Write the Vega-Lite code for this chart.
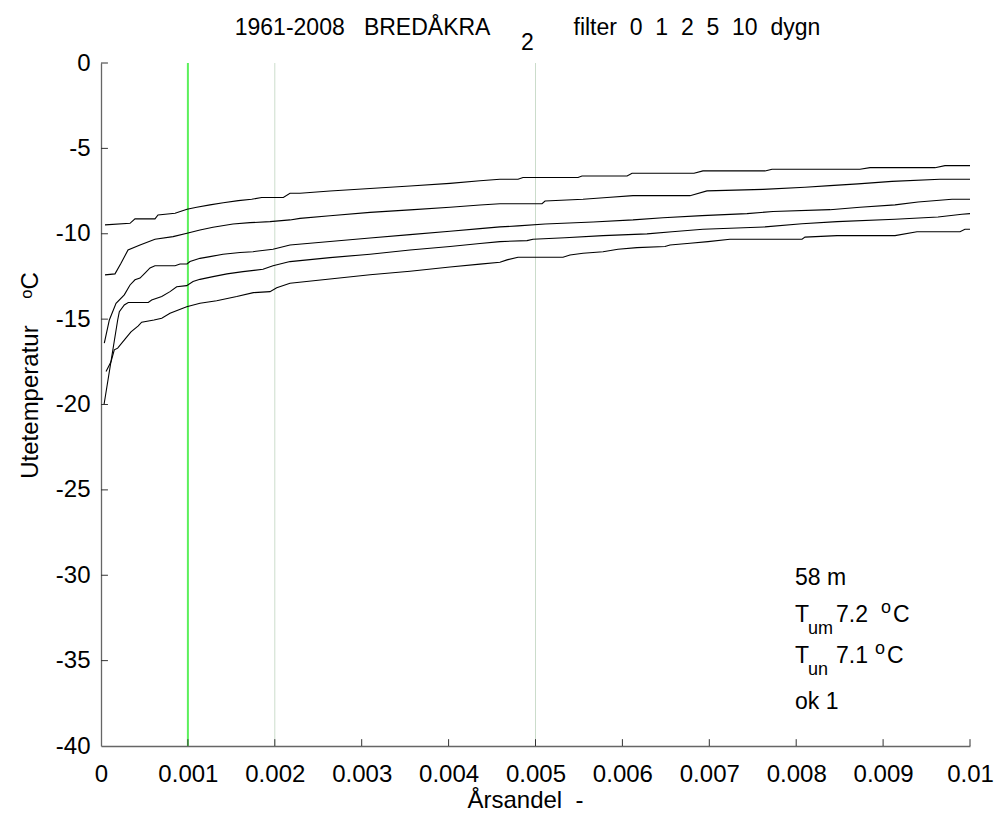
{
  "$schema": "https://vega.github.io/schema/vega-lite/v6.json",
  "autosize": "none",
  "width": 869,
  "height": 683,
  "padding": {"left": 101, "top": 63, "right": 26, "bottom": 72},
  "background": "white",
  "config": {
    "view": {"stroke": null},
    "font": "Liberation Sans",
    "axis": {"grid": false, "ticks": false, "domainColor": "#666666", "labelColor": "#000000", "titleColor": "#000000", "labelFont": "Liberation Sans", "titleFont": "Liberation Sans", "labelFontSize": 24, "titleFontSize": 24, "titleFontWeight": "normal", "domainWidth": 1.3}
  },
  "title": {
    "text": "1961-2008\u00a0\u00a0\u00a0BREDÅKRA\u00a0\u00a0\u00a0\u00a0\u00a0\u00a0\u00a0\u00a0\u00a0\u00a0\u00a0\u00a0\u00a0filter\u00a0\u00a00\u00a0\u00a01\u00a0\u00a02\u00a0\u00a05\u00a0\u00a010\u00a0\u00a0dygn",
    "subtitle": "2",
    "font": "Liberation Sans",
    "fontSize": 23,
    "fontWeight": "normal",
    "color": "#000000",
    "subtitleFont": "Liberation Sans",
    "subtitleFontSize": 23,
    "subtitleColor": "#000000",
    "subtitlePadding": -8,
    "anchor": "middle",
    "dx": -8,
    "offset": -4
  },
  "datasets": {
    "curves": [
      {"f":"10","x":0.000046,"t":-9.48},{"f":"10","x":0.000334,"t":-9.39},{"f":"10","x":0.000391,"t":-9.13},{"f":"10","x":0.000621,"t":-9.13},{"f":"10","x":0.000656,"t":-8.9},{"f":"10","x":0.000852,"t":-8.8},{"f":"10","x":0.00099,"t":-8.57},{"f":"10","x":0.001101,"t":-8.45},{"f":"10","x":0.001254,"t":-8.31},{"f":"10","x":0.001407,"t":-8.18},{"f":"10","x":0.00158,"t":-8.06},{"f":"10","x":0.001734,"t":-7.98},{"f":"10","x":0.001849,"t":-7.88},{"f":"10","x":0.002098,"t":-7.88},{"f":"10","x":0.002175,"t":-7.63},{"f":"10","x":0.00229,"t":-7.63},{"f":"10","x":0.002635,"t":-7.5},{"f":"10","x":0.003096,"t":-7.35},{"f":"10","x":0.003556,"t":-7.2},{"f":"10","x":0.004016,"t":-7.05},{"f":"10","x":0.004361,"t":-6.9},{"f":"10","x":0.004591,"t":-6.81},{"f":"10","x":0.004799,"t":-6.81},{"f":"10","x":0.004856,"t":-6.71},{"f":"10","x":0.005489,"t":-6.71},{"f":"10","x":0.005535,"t":-6.62},{"f":"10","x":0.006054,"t":-6.62},{"f":"10","x":0.006111,"t":-6.46},{"f":"10","x":0.006824,"t":-6.46},{"f":"10","x":0.006927,"t":-6.32},{"f":"10","x":0.007641,"t":-6.32},{"f":"10","x":0.007722,"t":-6.22},{"f":"10","x":0.008734,"t":-6.22},{"f":"10","x":0.00885,"t":-6.13},{"f":"10","x":0.009597,"t":-6.13},{"f":"10","x":0.009712,"t":-6.01},{"f":"10","x":0.01,"t":-6.01},

      {"f":"5","x":0.000046,"t":-12.41},{"f":"5","x":0.000161,"t":-12.35},{"f":"5","x":0.00023,"t":-11.73},{"f":"5","x":0.000311,"t":-10.95},{"f":"5","x":0.000449,"t":-10.66},{"f":"5","x":0.000621,"t":-10.32},{"f":"5","x":0.000829,"t":-10.17},{"f":"5","x":0.00099,"t":-9.97},{"f":"5","x":0.001139,"t":-9.78},{"f":"5","x":0.001289,"t":-9.62},{"f":"5","x":0.001519,"t":-9.43},{"f":"5","x":0.001715,"t":-9.35},{"f":"5","x":0.001945,"t":-9.29},{"f":"5","x":0.002175,"t":-9.19},{"f":"5","x":0.00229,"t":-9.1},{"f":"5","x":0.002635,"t":-8.95},{"f":"5","x":0.003096,"t":-8.75},{"f":"5","x":0.003556,"t":-8.6},{"f":"5","x":0.004016,"t":-8.45},{"f":"5","x":0.004361,"t":-8.32},{"f":"5","x":0.004591,"t":-8.24},{"f":"5","x":0.005075,"t":-8.24},{"f":"5","x":0.00511,"t":-8.08},{"f":"5","x":0.005547,"t":-7.98},{"f":"5","x":0.005823,"t":-7.88},{"f":"5","x":0.006122,"t":-7.77},{"f":"5","x":0.006778,"t":-7.77},{"f":"5","x":0.006973,"t":-7.49},{"f":"5","x":0.007618,"t":-7.4},{"f":"5","x":0.008101,"t":-7.28},{"f":"5","x":0.008389,"t":-7.18},{"f":"5","x":0.008711,"t":-7.08},{"f":"5","x":0.009102,"t":-6.93},{"f":"5","x":0.009655,"t":-6.81},{"f":"5","x":0.01,"t":-6.81},

      {"f":"2","x":0.000038,"t":-16.41},{"f":"2","x":0.000096,"t":-15.05},{"f":"2","x":0.000173,"t":-14.07},{"f":"2","x":0.000268,"t":-13.58},{"f":"2","x":0.000334,"t":-13.0},{"f":"2","x":0.000391,"t":-12.7},{"f":"2","x":0.000449,"t":-12.6},{"f":"2","x":0.000506,"t":-12.3},{"f":"2","x":0.000564,"t":-12.0},{"f":"2","x":0.000621,"t":-11.87},{"f":"2","x":0.000852,"t":-11.87},{"f":"2","x":0.000909,"t":-11.77},{"f":"2","x":0.00099,"t":-11.77},{"f":"2","x":0.001024,"t":-11.63},{"f":"2","x":0.001139,"t":-11.44},{"f":"2","x":0.001254,"t":-11.34},{"f":"2","x":0.001404,"t":-11.2},{"f":"2","x":0.0016,"t":-11.1},{"f":"2","x":0.001749,"t":-11.05},{"f":"2","x":0.001979,"t":-10.91},{"f":"2","x":0.002175,"t":-10.66},{"f":"2","x":0.002635,"t":-10.45},{"f":"2","x":0.003096,"t":-10.25},{"f":"2","x":0.003556,"t":-10.05},{"f":"2","x":0.004016,"t":-9.85},{"f":"2","x":0.004361,"t":-9.7},{"f":"2","x":0.004591,"t":-9.6},{"f":"2","x":0.004799,"t":-9.54},{"f":"2","x":0.00511,"t":-9.43},{"f":"2","x":0.005662,"t":-9.31},{"f":"2","x":0.006122,"t":-9.19},{"f":"2","x":0.006467,"t":-9.06},{"f":"2","x":0.006916,"t":-8.94},{"f":"2","x":0.007434,"t":-8.82},{"f":"2","x":0.007733,"t":-8.7},{"f":"2","x":0.008389,"t":-8.59},{"f":"2","x":0.008734,"t":-8.45},{"f":"2","x":0.009137,"t":-8.31},{"f":"2","x":0.009402,"t":-8.14},{"f":"2","x":0.009793,"t":-7.98},{"f":"2","x":0.01,"t":-7.98},

      {"f":"1","x":0.000035,"t":-20.0},{"f":"1","x":0.000192,"t":-15.05},{"f":"1","x":0.000211,"t":-14.56},{"f":"1","x":0.000268,"t":-14.17},{"f":"1","x":0.000314,"t":-14.03},{"f":"1","x":0.000544,"t":-14.03},{"f":"1","x":0.000583,"t":-13.88},{"f":"1","x":0.000699,"t":-13.68},{"f":"1","x":0.000794,"t":-13.39},{"f":"1","x":0.000871,"t":-13.1},{"f":"1","x":0.000986,"t":-13.04},{"f":"1","x":0.001059,"t":-12.8},{"f":"1","x":0.001139,"t":-12.67},{"f":"1","x":0.001289,"t":-12.51},{"f":"1","x":0.00145,"t":-12.35},{"f":"1","x":0.001634,"t":-12.22},{"f":"1","x":0.001864,"t":-12.08},{"f":"1","x":0.001979,"t":-11.87},{"f":"1","x":0.002175,"t":-11.63},{"f":"1","x":0.002635,"t":-11.4},{"f":"1","x":0.003096,"t":-11.2},{"f":"1","x":0.003556,"t":-10.95},{"f":"1","x":0.004016,"t":-10.75},{"f":"1","x":0.004361,"t":-10.57},{"f":"1","x":0.004591,"t":-10.46},{"f":"1","x":0.004902,"t":-10.4},{"f":"1","x":0.004971,"t":-10.32},{"f":"1","x":0.005339,"t":-10.23},{"f":"1","x":0.005777,"t":-10.11},{"f":"1","x":0.006283,"t":-10.01},{"f":"1","x":0.006571,"t":-9.88},{"f":"1","x":0.006927,"t":-9.74},{"f":"1","x":0.007641,"t":-9.6},{"f":"1","x":0.008067,"t":-9.41},{"f":"1","x":0.00847,"t":-9.29},{"f":"1","x":0.009137,"t":-9.15},{"f":"1","x":0.009632,"t":-9.02},{"f":"1","x":0.009908,"t":-8.86},{"f":"1","x":0.01,"t":-8.82},

      {"f":"0","x":0.000058,"t":-18.07},{"f":"0","x":0.000115,"t":-17.5},{"f":"0","x":0.000153,"t":-16.8},{"f":"0","x":0.000192,"t":-16.7},{"f":"0","x":0.000288,"t":-16.1},{"f":"0","x":0.000345,"t":-15.75},{"f":"0","x":0.000429,"t":-15.4},{"f":"0","x":0.000468,"t":-15.18},{"f":"0","x":0.00061,"t":-15.05},{"f":"0","x":0.000699,"t":-14.95},{"f":"0","x":0.000794,"t":-14.66},{"f":"0","x":0.000986,"t":-14.27},{"f":"0","x":0.001139,"t":-14.07},{"f":"0","x":0.001331,"t":-13.92},{"f":"0","x":0.001562,"t":-13.68},{"f":"0","x":0.001753,"t":-13.45},{"f":"0","x":0.001945,"t":-13.39},{"f":"0","x":0.002022,"t":-13.16},{"f":"0","x":0.002175,"t":-12.9},{"f":"0","x":0.002635,"t":-12.65},{"f":"0","x":0.003096,"t":-12.4},{"f":"0","x":0.003556,"t":-12.2},{"f":"0","x":0.004016,"t":-11.95},{"f":"0","x":0.004361,"t":-11.78},{"f":"0","x":0.004591,"t":-11.67},{"f":"0","x":0.004672,"t":-11.53},{"f":"0","x":0.004799,"t":-11.38},{"f":"0","x":0.005316,"t":-11.38},{"f":"0","x":0.005397,"t":-11.24},{"f":"0","x":0.005547,"t":-11.14},{"f":"0","x":0.005777,"t":-11.05},{"f":"0","x":0.005949,"t":-10.91},{"f":"0","x":0.006168,"t":-10.81},{"f":"0","x":0.00649,"t":-10.75},{"f":"0","x":0.006548,"t":-10.66},{"f":"0","x":0.006778,"t":-10.56},{"f":"0","x":0.006985,"t":-10.46},{"f":"0","x":0.007238,"t":-10.32},{"f":"0","x":0.008067,"t":-10.32},{"f":"0","x":0.008101,"t":-10.2},{"f":"0","x":0.00847,"t":-10.11},{"f":"0","x":0.009137,"t":-10.11},{"f":"0","x":0.00939,"t":-9.88},{"f":"0","x":0.009885,"t":-9.88},{"f":"0","x":0.009942,"t":-9.74},{"f":"0","x":0.01,"t":-9.74}
    ],
    "vlines": [
      {"x": 0.001, "kind": "main"},
      {"x": 0.002, "kind": "thin"},
      {"x": 0.005, "kind": "thin"}
    ],
    "xticks": [{"v":0.001},{"v":0.002},{"v":0.003},{"v":0.004},{"v":0.005},{"v":0.006},{"v":0.007},{"v":0.008},{"v":0.009},{"v":0.01}],
    "yticks": [{"v":-35},{"v":-30},{"v":-25},{"v":-20},{"v":-15},{"v":-10},{"v":-5},{"v":0}],
    "notes": [
      {"role": "main", "t": "58 m", "x": 0.007986, "y": -30.55},
      {"role": "main", "t": "T", "x": 0.007986, "y": -32.75},
      {"role": "sub", "t": "um", "x": 0.008136, "y": -33.45},
      {"role": "main", "t": "7.2", "x": 0.008458, "y": -32.75},
      {"role": "sup", "t": "o", "x": 0.008976, "y": -32.2},
      {"role": "main", "t": "C", "x": 0.009114, "y": -32.75},
      {"role": "main", "t": "T", "x": 0.007986, "y": -35.15},
      {"role": "sub", "t": "un", "x": 0.008136, "y": -35.85},
      {"role": "main", "t": "7.1", "x": 0.008458, "y": -35.15},
      {"role": "sup", "t": "o", "x": 0.008907, "y": -34.6},
      {"role": "main", "t": "C", "x": 0.009045, "y": -35.15},
      {"role": "main", "t": "ok 1", "x": 0.007986, "y": -37.85}
    ]
  },
  "layer": [
    {
      "data": {"name": "vlines"},
      "transform": [{"filter": "datum.kind == 'thin'"}],
      "mark": {"type": "rule", "color": "#a8c4a8", "strokeWidth": 0.6},
      "encoding": {"x": {"field": "x", "type": "quantitative", "scale": {"domain": [0, 0.01]}}}
    },
    {
      "data": {"name": "vlines"},
      "transform": [{"filter": "datum.kind == 'main'"}],
      "mark": {"type": "rule", "color": "#5cf05c", "strokeWidth": 2},
      "encoding": {"x": {"field": "x", "type": "quantitative"}}
    },
    {
      "data": {"name": "curves"},
      "mark": {"type": "line", "color": "#000000", "strokeWidth": 1.1, "clip": true},
      "encoding": {
        "x": {
          "field": "x", "type": "quantitative",
          "scale": {"domain": [0, 0.01], "nice": false, "zero": false},
          "axis": {"title": "Årsandel\u00a0\u00a0-", "values": [0,0.001,0.002,0.003,0.004,0.005,0.006,0.007,0.008,0.009,0.01], "format": "~g", "labelPadding": 16, "titlePadding": 2, "titleX": 424, "labelFlush": false, "labelOverlap": false}
        },
        "y": {
          "field": "t", "type": "quantitative",
          "scale": {"domain": [-40, 0], "nice": false, "zero": false},
          "axis": {"title": "Utetemperatur\u00a0\u00a0\u00a0\u00a0ᵒC", "values": [-40,-35,-30,-25,-20,-15,-10,-5,0], "labelExpr": "replace(datum.label, '\u2212', '-')", "labelPadding": 11, "titlePadding": 13, "titleY": 312, "labelFlush": false, "labelOverlap": false}
        },
        "detail": {"field": "f", "type": "nominal"}
      }
    },
    {
      "data": {"name": "yticks"},
      "mark": {"type": "rule", "color": "#333333", "strokeWidth": 1},
      "encoding": {
        "x": {"datum": 0, "type": "quantitative"},
        "x2": {"datum": 0.00008},
        "y": {"field": "v", "type": "quantitative"}
      }
    },
    {
      "data": {"name": "xticks"},
      "mark": {"type": "rule", "color": "#333333", "strokeWidth": 1},
      "encoding": {
        "x": {"field": "v", "type": "quantitative"},
        "y": {"datum": -40, "type": "quantitative"},
        "y2": {"datum": -39.6}
      }
    },
    {
      "data": {"name": "notes"},
      "transform": [{"filter": "datum.role == 'main'"}],
      "mark": {"type": "text", "align": "left", "baseline": "alphabetic", "fontSize": 23, "font": "Liberation Sans", "color": "#000000"},
      "encoding": {
        "x": {"field": "x", "type": "quantitative"},
        "y": {"field": "y", "type": "quantitative"},
        "text": {"field": "t"}
      }
    },
    {
      "data": {"name": "notes"},
      "transform": [{"filter": "datum.role != 'main'"}],
      "mark": {"type": "text", "align": "left", "baseline": "alphabetic", "fontSize": 18, "font": "Liberation Sans", "color": "#000000"},
      "encoding": {
        "x": {"field": "x", "type": "quantitative"},
        "y": {"field": "y", "type": "quantitative"},
        "text": {"field": "t"}
      }
    }
  ]
}
